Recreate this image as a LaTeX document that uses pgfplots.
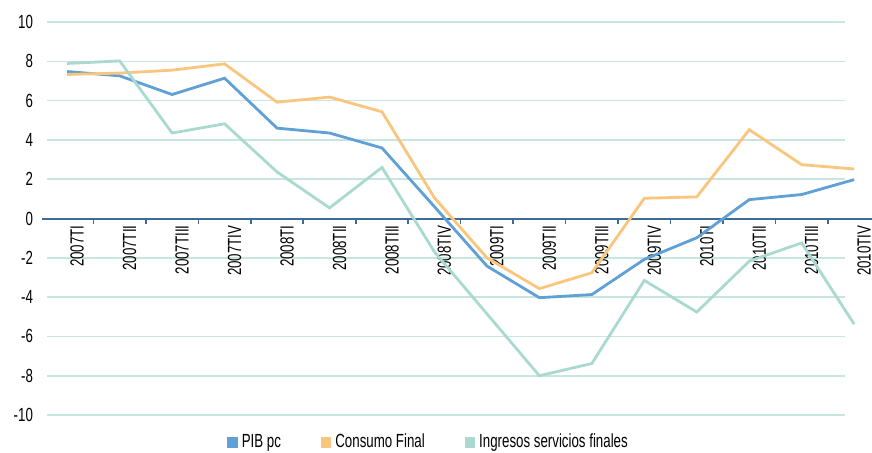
\documentclass[border=0pt]{standalone}
\usepackage{fontspec}
\setmainfont{Liberation Sans}[FakeStretch=0.70]
\usepackage{pgfplots}
\pgfplotsset{compat=1.18}
\definecolor{pibc}{HTML}{5FA0D6}
\definecolor{conc}{HTML}{FAC57D}
\definecolor{ingc}{HTML}{AAD9CF}
\definecolor{gridc}{HTML}{C6E6DF}
\definecolor{axc}{HTML}{3E6B95}
\begin{document}
\begin{tikzpicture}
\begin{axis}[
  set layers=standard,
  scale only axis, width=415pt, height=196.5pt,
  at={(0,0)}, anchor=south west,
  xmin=-0.48, xmax=15.34, ymin=-10, ymax=10,
  axis x line*=middle, axis y line*=left,
  hide obscured x ticks=false, hide obscured y ticks=false,
  x axis line style={draw=axc, line width=1pt},
  y axis line style={draw=none},
  ytick={-10,-8,...,10},
  ytick style={draw=none},
  xtick={0,...,15},
  xticklabels={2007TI,2007TII,2007TIII,2007TIV,2008TI,2008TII,2008TIII,2008TIV,2009TI,2009TII,2009TIII,2009TIV,2010TI,2010TII,2010TIII,2010TIV},
  x tick style={draw=none},
  xticklabel style={rotate=90, anchor=east, yshift=-5pt, font=\fontsize{9.5}{10}\selectfont},
  yticklabel style={font=\fontsize{9.5}{10}\selectfont, xshift=-1pt},
  /pgf/number format/assume math mode=true,
  clip=false,
  legend style={draw=none, at={(0.467,-0.07)}, anchor=center, legend columns=3,
    font=\fontsize{9.5}{10}\selectfont,
    /tikz/every even column/.append style={column sep=18pt},
    nodes={inner sep=2pt}},
  legend image code/.code={\fill[#1,draw=none] (0pt,-2.6pt) rectangle (5.2pt,2.6pt);},
]
\begin{pgfonlayer}{axis background}
\pgfplotsinvokeforeach{-10,-8,-6,-4,-2,2,4,6,8,10}{
  \draw[gridc, line width=0.8pt] (axis cs:-0.38,#1) -- (axis cs:14.82,#1);
}
\end{pgfonlayer}
\pgfplotsinvokeforeach{0.5,1.5,2.5,3.5,4.5,5.5,6.5,7.5,8.5,9.5,10.5,11.5,12.5,13.5,14.5}{
  \draw[axc, line width=0.8pt] (axis cs:#1,0) -- ++(0pt,-2.6pt);
}
\addplot[color=pibc, line width=1.4pt] coordinates {
(0,7.48) (1,7.26) (2,6.31) (3,7.14) (4,4.6) (5,4.35) (6,3.59) (7,0.6)
(8,-2.42) (9,-4.03) (10,-3.87) (11,-2.08) (12,-0.98) (13,0.96) (14,1.22) (15,1.98)};
\addlegendentry{PIB pc}
\addplot[color=conc, line width=1.4pt] coordinates {
(0,7.33) (1,7.4) (2,7.55) (3,7.87) (4,5.92) (5,6.18) (6,5.43) (7,1.05)
(8,-2.0) (9,-3.57) (10,-2.76) (11,1.03) (12,1.1) (13,4.52) (14,2.74) (15,2.52)};
\addlegendentry{Consumo Final}
\addplot[color=ingc, line width=1.4pt] coordinates {
(0,7.89) (1,8.02) (2,4.35) (3,4.82) (4,2.37) (5,0.54) (6,2.6) (7,-1.7)
(8,-4.85) (9,-8.0) (10,-7.38) (11,-3.15) (12,-4.76) (13,-2.17) (14,-1.24) (15,-5.38)};
\addlegendentry{Ingresos servicios finales}
\end{axis}
\pgfresetboundingbox
\path (-21pt,-18.5pt) rectangle (415pt,207.5pt);
\end{tikzpicture}
\end{document}
